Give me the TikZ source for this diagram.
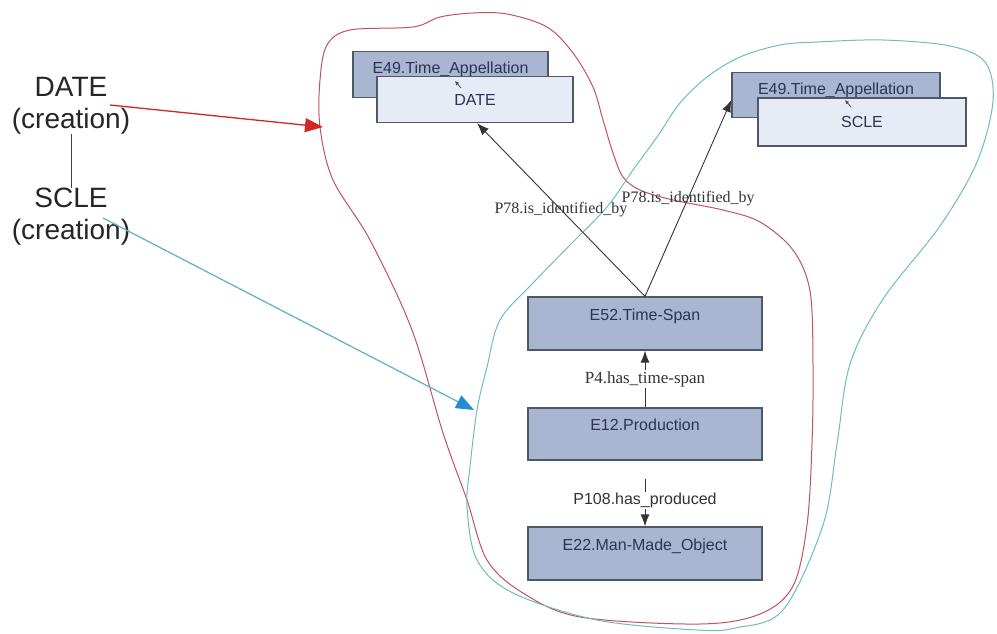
\documentclass[tikz,border=0pt]{standalone}
\usepackage{fontspec}
\setmainfont{Liberation Serif}
\setsansfont{Liberation Sans}
\usetikzlibrary{arrows.meta}
\definecolor{redcurve}{HTML}{C05262}
\definecolor{cyancurve}{HTML}{6FBCBC}
\definecolor{redarrow}{HTML}{D42424}
\definecolor{cyanarrow}{HTML}{66B4C4}
\definecolor{cyanhead}{HTML}{1E90D0}
\definecolor{backfill}{HTML}{A9B6D1}
\definecolor{frontfill}{HTML}{E6EBF5}
\definecolor{boxline}{HTML}{4F5866}
\definecolor{boxtext}{HTML}{2B3550}
\definecolor{labtext}{HTML}{333333}
\begin{document}
\begin{tikzpicture}[x=1pt,y=-1pt,
  bigtxt/.style={font=\sffamily\fontsize{28}{32}\selectfont, text=black!85, align=center, inner sep=0pt, anchor=north},
  mainbox/.style={draw=boxline, line width=1.3pt, fill=backfill, minimum width=234pt, inner xsep=0pt, inner ysep=0pt,
     text height=23.5pt, text depth=29.5pt, font=\sffamily\fontsize{16}{19}\selectfont, text=boxtext},
  backbox/.style={draw=boxline, line width=1.3pt, fill=backfill, inner xsep=0pt, inner ysep=0pt,
     text height=22pt, text depth=23.5pt, font=\sffamily\fontsize{16}{19}\selectfont, text=boxtext},
  frontbox/.style={draw=boxline, line width=1.3pt, fill=frontfill, inner xsep=0pt, minimum height=46pt,
     font=\sffamily\fontsize{16}{19}\selectfont, text=boxtext},
  rel/.style={draw=black!80, line width=0.9pt, -{Latex[length=12pt,width=9pt]}},
  serlab/.style={font=\rmfamily\fontsize{16}{19}\selectfont, text=labtext, inner sep=1pt},
  tinyarr/.style={draw=black!70, line width=0.8pt, -{Latex[length=4pt,width=4pt]}}
]
\useasboundingbox (0,0) rectangle (997,633);

% regions
\draw[redcurve, line width=1pt] plot[smooth cycle, tension=0.55] coordinates {
 (320,80) (327,45) (350,30) (413,27) (440,17) (473,13) (507,14) (547,27) (573,53) (593,87)
 (603,120) (613,153) (623,177) (640,190) (673,200) (723,210) (760,222) (793,250) (810,291)
 (813,364) (812,444) (807,525) (793,586) (760,614) (700,624) (580,617) (523,593) (487,560)
 (467,500) (443,433) (412,330) (370,240) (333,180) (320,127)};
\draw[cyancurve, line width=1pt] plot[smooth cycle, tension=0.55] coordinates {
 (570,245) (533,283) (500,320) (487,367) (477,410) (470,467) (467,507) (477,560) (513,593)
 (597,620) (697,630) (735,628) (783,610) (823,525) (837,444) (850,364) (883,299) (940,226)
 (977,162) (993,101) (985,62) (950,46) (883,40) (817,42) (780,45) (740,57) (707,77)
 (680,103) (657,137) (633,170) (607,207)};

% left labels
\node[bigtxt] (dateL) at (71,77) {DATE\\(creation)};
\node[bigtxt] (scleL) at (71,188) {SCLE\\(creation)};
\draw[black!75, line width=1pt] (dateL.south) -- (scleL.north);

\coordinate (rs) at (110,105);
\coordinate (re) at (323,127);
\coordinate (cs) at (103,218);
\coordinate (ce) at (474,410);
\draw[redarrow, line width=1.3pt, -{Triangle[length=18pt,width=14pt,color=redarrow]}] (rs) -- (re);
\draw[cyanarrow, line width=1.3pt, -{Triangle[length=18pt,width=14pt,color=cyanhead]}] (cs) -- (ce);

% appellation boxes
\node[backbox, minimum width=195pt] (e49a) at (450.5,74.5) {E49.Time\_Appellation};
\node[frontbox, minimum width=196pt] (dateF) at (475,99.5) {DATE};
\node[backbox, minimum width=208pt] (e49b) at (836,95) {E49.Time\_Appellation};
\node[frontbox, minimum width=208pt, minimum height=48pt] (scleF) at (862,122) {SCLE};
\coordinate (ta1) at (461,88);
\coordinate (ta2) at (455,81);
\coordinate (tb1) at (851,107);
\coordinate (tb2) at (845,100);
\draw[tinyarr] (ta1) -- (ta2);
\draw[tinyarr] (tb1) -- (tb2);

% main chain
\node[mainbox] (e52) at (645,323.5) {E52.Time-Span};
\node[mainbox, text height=22.5pt] (e12) at (645,434) {E12.Production};
\node[mainbox] (e22) at (645,553.5) {E22.Man-Made\_Object};

\draw[rel] (e12.north) -- node[serlab, fill=white, font=\rmfamily\fontsize{17}{20}\selectfont] (p4) {P4.has\_time-span} (e52.south);
\draw[rel, shorten <=18pt] (e12.south) -- node[pos=0.6, fill=white, inner sep=1pt, text=labtext, font=\sffamily\fontsize{16}{19}\selectfont] (p108) {P108.has\_produced} (e22.north);
\draw[rel] (e52.north) -- node[serlab] (p78a) {P78.is\_identified\_by} ([xshift=2pt]dateF.south);
\draw[rel] (e52.north) -- node[serlab] (p78b) {P78.is\_identified\_by} ([yshift=-5pt]e49b.west);
\end{tikzpicture}
\end{document}
